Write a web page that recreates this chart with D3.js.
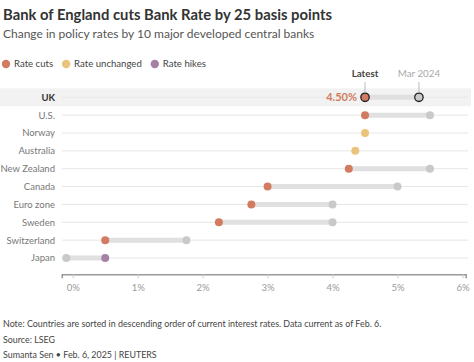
<!DOCTYPE html>
<html>
<head>
<meta charset="utf-8">
<script src="https://cdn.jsdelivr.net/npm/d3@7"></script>
<style>
  body { margin: 0; background: #fff; }
  svg { display: block; font-family: "Lato", "Noto Sans", sans-serif; }
</style>
</head>
<body>
<svg id="chart" width="474" height="362"></svg>
<script>
/* ------------ Data ----------------*/
const countries = ['UK', 'U.S.', 'Norway', 'Australia', 'New Zealand', 'Canada', 'Euro zone', 'Sweden', 'Switzerland', 'Japan'];
const latestRates = [4.5, 4.5, 4.5, 4.35, 4.25, 3.0, 2.75, 2.25, 0.5, 0.5];
const mar2024Rates = [5.33, 5.5, 4.5, 4.35, 5.5, 5.0, 4.0, 4.0, 1.75, -0.1];
const moves = ['cut', 'cut', 'unchanged', 'unchanged', 'cut', 'cut', 'cut', 'cut', 'cut', 'hike'];
const tickValues = [0, 1, 2, 3, 4, 5, 6];
const legendItems = [['cut', 'Rate cuts'], ['unchanged', 'Rate unchanged'], ['hike', 'Rate hikes']];

const colors = { cut: '#d27b60', unchanged: '#ebc47c', hike: '#a482a6' };

/* ------------ Chart ----------------*/
const svg = d3.select('#chart');

svg.append('text')
  .attr('x', 3).attr('y', 20)
  .attr('font-size', '14.8px').attr('font-weight', 700)
  .attr('fill', '#333')
  .text('Bank of England cuts Bank Rate by 25 basis points');

svg.append('text')
  .attr('x', 3).attr('y', 38)
  .attr('font-size', '12px')
  .attr('fill', '#555')
  .text('Change in policy rates by 10 major developed central banks');

// legend
const legend = svg.append('g').attr('transform', 'translate(0, 64)');
let lx = 6;
legendItems.forEach(([key, label]) => {
  legend.append('circle').attr('cx', lx).attr('cy', 0).attr('r', 4.2).attr('fill', colors[key]);
  const t = legend.append('text')
    .attr('x', lx + 8).attr('y', 3.4)
    .attr('font-size', '9.6px').attr('fill', '#444')
    .text(label);
  lx += t.node().getComputedTextLength() + 21;
});

const x = d3.scaleLinear().domain([-0.17, 6.05]).range([61.7, 465.7]);
const y = d3.scalePoint().domain(countries).range([97.3, 258]);

// UK highlight band
svg.append('rect')
  .attr('x', 0).attr('y', y('UK') - 9)
  .attr('width', 471).attr('height', 18)
  .attr('fill', '#f2f2f2');

// row guide lines
svg.append('g').selectAll('line')
  .data(countries)
  .join('line')
  .attr('x1', 62).attr('x2', 468)
  .attr('y1', d => y(d)).attr('y2', d => y(d))
  .attr('stroke', '#e6e6e6').attr('stroke-width', 1);

// row labels
svg.append('g').selectAll('text')
  .data(countries)
  .join('text')
  .attr('x', 55).attr('y', d => y(d) + 3.4)
  .attr('text-anchor', 'end')
  .attr('font-size', '9.5px')
  .attr('font-weight', d => d === 'UK' ? 700 : 400)
  .attr('fill', d => d === 'UK' ? '#333' : '#777')
  .text(d => d);

// x axis
const axis = svg.append('g')
  .attr('transform', 'translate(0, 274.3)')
  .call(d3.axisBottom(x).tickValues(tickValues).tickFormat(d => d + '%').tickSize(4).tickPadding(6));
axis.select('.domain').attr('stroke', '#999').attr('stroke-width', 1.5);
axis.selectAll('.tick line').attr('stroke', '#ccc');
axis.selectAll('.tick text').attr('fill', '#999').attr('font-size', '9.5px').attr('font-family', '"Lato", "Noto Sans", sans-serif');

const rows = countries.map((c, i) => ({ c, latest: latestRates[i], prev: mar2024Rates[i], move: moves[i] }));

// tracks
svg.append('g').selectAll('line')
  .data(rows.filter(d => d.latest !== d.prev))
  .join('line')
  .attr('x1', d => x(d.latest)).attr('x2', d => x(d.prev))
  .attr('y1', d => y(d.c)).attr('y2', d => y(d.c))
  .attr('stroke', '#e0e0e0').attr('stroke-width', 5);

// Mar 2024 dots
svg.append('g').selectAll('circle')
  .data(rows.filter(d => d.latest !== d.prev))
  .join('circle')
  .attr('cx', d => x(d.prev)).attr('cy', d => y(d.c))
  .attr('r', d => d.c === 'UK' ? 4.2 : 4)
  .attr('fill', '#c9c9c9')
  .attr('stroke', d => d.c === 'UK' ? '#222' : 'none')
  .attr('stroke-width', 1.3);

// latest dots
svg.append('g').selectAll('circle')
  .data(rows)
  .join('circle')
  .attr('cx', d => x(d.latest)).attr('cy', d => y(d.c))
  .attr('r', d => d.c === 'UK' ? 4.2 : 4)
  .attr('fill', d => colors[d.move])
  .attr('stroke', d => d.c === 'UK' ? '#222' : 'none')
  .attr('stroke-width', 1.3);

// UK annotations
const uk = rows[0];
svg.append('text')
  .attr('x', x(uk.latest) - 8).attr('y', y('UK') + 4)
  .attr('text-anchor', 'end')
  .attr('font-size', '11px').attr('font-weight', 700)
  .attr('fill', colors.cut)
  .text(uk.latest.toFixed(2) + '%');

[[uk.latest, 'Latest', 700, '#444'], [uk.prev, 'Mar 2024', 400, '#aaa']].forEach(([v, label, w, col]) => {
  svg.append('line')
    .attr('x1', x(v)).attr('x2', x(v))
    .attr('y1', 82).attr('y2', y('UK') - 5)
    .attr('stroke', '#bbb').attr('stroke-width', 1);
  svg.append('text')
    .attr('x', x(v)).attr('y', 77)
    .attr('text-anchor', 'middle')
    .attr('font-size', '9.8px').attr('font-weight', w)
    .attr('fill', col)
    .text(label);
});

// footer
const footer = [
  ['Note: Countries are sorted in descending order of current interest rates. Data current as of Feb. 6.', 326.5],
  ['Source: LSEG', 342.5],
  ['Sumanta Sen \u2022 Feb. 6, 2025 | REUTERS', 357.5]
];
footer.forEach(([t, yy]) => {
  svg.append('text')
    .attr('x', 3).attr('y', yy)
    .attr('font-size', '8.9px').attr('fill', '#444')
    .text(t);
});
</script>
</body>
</html>
